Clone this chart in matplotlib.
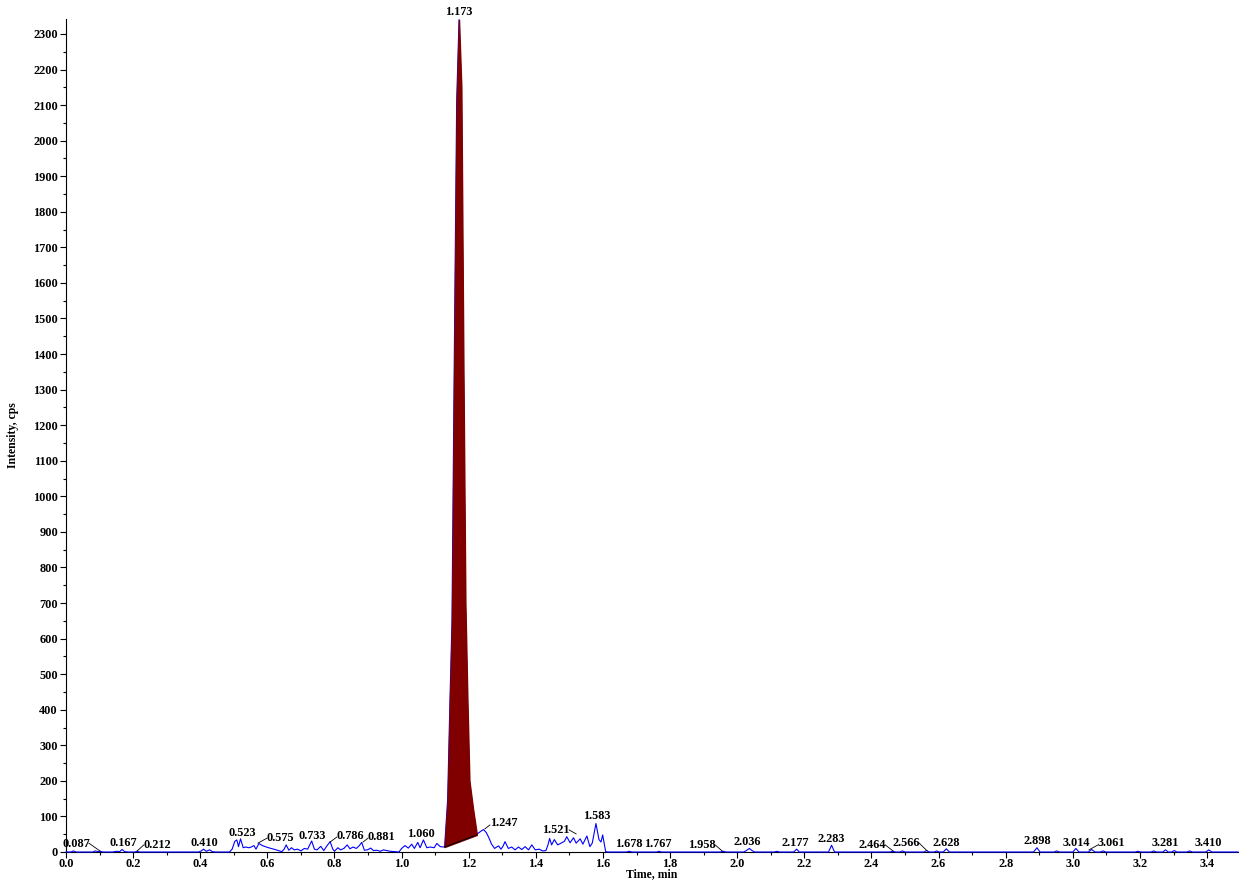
"""
plot.py - XIC trace with the integrated main peak shaded.
Writes out.png (1241 x 882 px).
"""

import matplotlib.pyplot as plt
import numpy as np
from matplotlib.ticker import MultipleLocator

# ------------------------------------------------------------------
# Data
# ------------------------------------------------------------------

trace_time = [
    0.000, 0.015, 0.022, 0.030, 0.080, 0.087, 0.095, 0.102, 0.110, 0.140,
    0.150, 0.160, 0.167, 0.175, 0.185, 0.205, 0.212, 0.220, 0.395, 0.403,
    0.410, 0.418, 0.428, 0.436, 0.445, 0.487, 0.495, 0.503, 0.509, 0.514,
    0.520, 0.528, 0.535, 0.545, 0.552, 0.560, 0.566, 0.575, 0.585, 0.600,
    0.615, 0.630, 0.643, 0.650, 0.656, 0.664, 0.672, 0.680, 0.690, 0.700,
    0.710, 0.720, 0.732, 0.740, 0.748, 0.759, 0.768, 0.778, 0.787, 0.795,
    0.800, 0.810, 0.818, 0.828, 0.838, 0.846, 0.855, 0.865, 0.874, 0.881,
    0.889, 0.898, 0.908, 0.916, 0.926, 0.936, 0.946, 0.956, 0.966, 0.980,
    0.992, 1.000, 1.010, 1.020, 1.030, 1.038, 1.048, 1.055, 1.065, 1.075,
    1.085, 1.097, 1.105, 1.115, 1.128,
    # main peak
    1.137, 1.144, 1.150, 1.157, 1.164, 1.171, 1.178, 1.184, 1.190, 1.196,
    1.202, 1.213, 1.224,
    # tail after the peak
    1.237, 1.244, 1.252, 1.260, 1.268, 1.277, 1.283, 1.289, 1.296, 1.302,
    1.308, 1.318, 1.328, 1.338, 1.348, 1.358, 1.368, 1.378, 1.388, 1.398,
    1.410, 1.420, 1.430, 1.436, 1.441, 1.447, 1.455, 1.465, 1.475, 1.485,
    1.492, 1.502, 1.512, 1.520, 1.532, 1.540, 1.552, 1.561, 1.568, 1.579,
    1.588, 1.594, 1.599, 1.608, 1.615,
    # flat late region
    1.670, 1.678, 1.686, 1.760, 1.767, 1.774, 1.950, 1.958, 1.966, 2.020,
    2.030, 2.036, 2.044, 2.052, 2.110, 2.118, 2.126, 2.168, 2.177, 2.185,
    2.272, 2.281, 2.290, 2.455, 2.464, 2.472, 2.485, 2.492, 2.500, 2.556,
    2.564, 2.572, 2.587, 2.594, 2.602, 2.614, 2.623, 2.632, 2.883, 2.893,
    2.902, 2.944, 2.952, 2.960, 3.000, 3.009, 3.018, 3.046, 3.056, 3.066,
    3.082, 3.090, 3.098, 3.186, 3.194, 3.202, 3.233, 3.241, 3.249, 3.268,
    3.276, 3.284, 3.294, 3.302, 3.310, 3.340, 3.348, 3.356, 3.396, 3.405,
    3.414, 3.492,
]

trace_cps = [
    0, 0, 3, 0, 0, 3, 1, 2, 0, 0,
    2, 1, 7, 1, 0, 0, 2, 0, 0, 3,
    8, 2, 6, 1, 0, 0, 8, 30, 34, 15,
    37, 12, 14, 12, 14, 18, 8, 24, 18, 13,
    9, 5, 1, 8, 20, 5, 12, 6, 8, 3,
    10, 8, 31, 8, 6, 16, 4, 18, 29, 8,
    2, 12, 6, 10, 20, 9, 14, 10, 18, 27,
    5, 6, 11, 4, 5, 2, 6, 4, 2, 1,
    0, 10, 18, 11, 22, 10, 27, 12, 34, 12,
    14, 12, 24, 15, 14,
    146, 427, 650, 1400, 2110, 2340, 2150, 1380, 700, 430,
    200, 120, 50,
    59, 63, 55, 40, 22, 10, 14, 17, 8, 16,
    29, 10, 14, 6, 14, 7, 15, 6, 20, 6,
    8, 3, 4, 20, 38, 20, 35, 20, 25, 30,
    43, 26, 40, 25, 37, 22, 45, 15, 25, 80,
    35, 28, 48, 1, 0,
    0, 2, 0, 0, 2, 0, 0, 2, 0, 0,
    6, 10, 4, 0, 0, 2, 0, 0, 8, 0,
    0, 19, 0, 0, 2, 0, 0, 3, 0, 0,
    4, 0, 0, 3, 0, 0, 9, 0, 0, 12,
    0, 0, 3, 0, 0, 10, 0, 0, 7, 0,
    0, 3, 0, 0, 2, 0, 0, 3, 0, 0,
    6, 0, 0, 4, 0, 0, 3, 0, 0, 6,
    0, 0,
]

# integration baseline of the shaded peak: (time, cps) at start and end
peak_start = (1.128, 14)
peak_end = (1.224, 48)

# apex labels, text placement (time, cps) and optional leader line
apex_labels = [
    "0.087", "0.167", "0.212", "0.410", "0.523", "0.575", "0.733", "0.786",
    "0.881", "1.060", "1.173", "1.247", "1.521", "1.583", "1.678", "1.767",
    "1.958", "2.036", "2.177", "2.283", "2.464", "2.566", "2.628", "2.898",
    "3.014", "3.061", "3.281", "3.410",
]
label_pos = [
    (0.030, 22), (0.170, 26), (0.273, 20), (0.411, 26), (0.524, 54),
    (0.638, 38), (0.733, 45), (0.846, 45), (0.939, 43), (1.058, 51),
    (1.171, 2361), (1.305, 81), (1.459, 62), (1.581, 101), (1.678, 22),
    (1.764, 22), (1.894, 20), (2.031, 29), (2.172, 26), (2.280, 36),
    (2.401, 20), (2.503, 26), (2.624, 26), (2.893, 32), (3.010, 24),
    (3.116, 24), (3.275, 24), (3.403, 24),
]
leaders = {
    "0.087": ((0.068, 25), (0.101, 3)),
    "0.212": ((0.212, 3), (0.232, 20)),
    "0.575": ((0.572, 25), (0.599, 39)),
    "0.786": ((0.787, 28), (0.807, 42)),
    "0.881": ((0.885, 28), (0.900, 39)),
    "1.247": ((1.248, 65), (1.263, 76)),
    "1.521": ((1.499, 62), (1.520, 51)),
    "1.958": ((1.934, 20), (1.955, 3)),
    "2.464": ((2.441, 20), (2.464, 3)),
    "2.566": ((2.542, 25), (2.566, 3)),
    "3.061": ((3.048, 6), (3.075, 20)),
}

# ------------------------------------------------------------------
# Plot
# ------------------------------------------------------------------

plt.rcParams["font.family"] = ["Liberation Serif", "DejaVu Serif"]
plt.rcParams["font.weight"] = "bold"
plt.rcParams["path.simplify"] = False   # keep the trace on the fill edge

fig = plt.figure(figsize=(12.41, 8.82), dpi=100)
ax = fig.add_axes([66 / 1241, 30 / 882, 1172 / 1241, 833 / 882])

t = np.array(trace_time)
y = np.array(trace_cps, dtype=float)

# blue trace first; the shaded peak sits on top of it
ax.plot(t, y, color="#0000ff", lw=0.8, zorder=4, clip_on=False)

in_peak = (t >= peak_start[0]) & (t <= peak_end[0])
base = np.interp(t[in_peak], [peak_start[0], peak_end[0]],
                 [peak_start[1], peak_end[1]])
ax.fill_between(t[in_peak], base, y[in_peak], facecolor="#800000",
                edgecolor="#800000", lw=1.0, zorder=5)
ax.plot([peak_start[0], peak_end[0]], [peak_start[1], peak_end[1]],
        color="black", lw=0.7, zorder=6)

for text, (lx, ly) in zip(apex_labels, label_pos):
    ax.text(lx, ly, text, ha="center", va="center", fontsize=8.8,
            fontweight="bold", clip_on=False, zorder=7)
    if text in leaders:
        (x0, y0), (x1, y1) = leaders[text]
        ax.plot([x0, x1], [y0, y1], color="black", lw=0.6, zorder=7)

ax.set_xlim(0, 3.492)
ax.set_ylim(0, 2342)

ax.xaxis.set_major_locator(MultipleLocator(0.2))
ax.xaxis.set_minor_locator(MultipleLocator(0.1))
ax.yaxis.set_major_locator(MultipleLocator(100))
ax.yaxis.set_minor_locator(MultipleLocator(50))
ax.xaxis.set_major_formatter(lambda v, _: f"{v:.1f}")
ax.yaxis.set_major_formatter(lambda v, _: f"{v:.0f}")

ax.tick_params(which="major", length=4.3, width=0.8, pad=1.5,
               labelsize=8.8, direction="out")
ax.tick_params(axis="x", which="major", pad=0.3)
ax.tick_params(which="minor", length=2.2, width=0.8, direction="out")

for side in ("top", "right"):
    ax.spines[side].set_visible(False)
ax.spines["left"].set_linewidth(0.8)
ax.spines["bottom"].set_linewidth(0.8)

ax.set_xlabel("Time, min", fontsize=8.5, fontweight="bold", labelpad=-1.5)
ax.set_ylabel("Intensity, cps", fontsize=8.5, fontweight="bold", labelpad=10)

fig.savefig("out.png", dpi=100)
